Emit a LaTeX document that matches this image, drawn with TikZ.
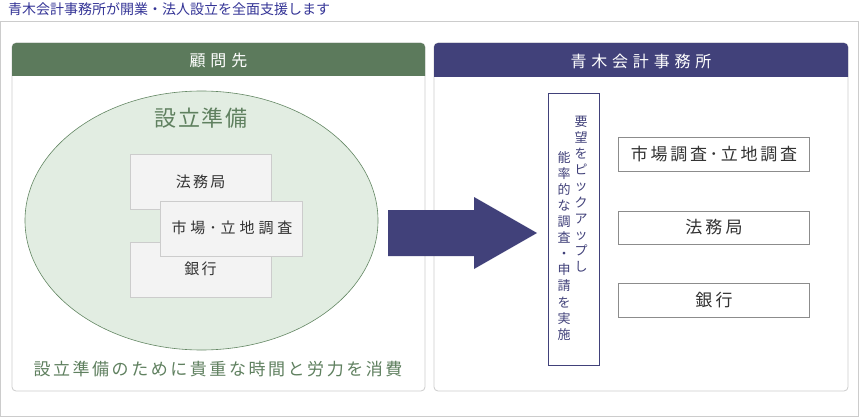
\documentclass[tikz,border=0pt]{standalone}
\usepackage{fontspec}
\setmainfont{Noto Sans CJK JP}
\usetikzlibrary{shadows,shapes.geometric}
\definecolor{titleblue}{RGB}{52,52,150}
\definecolor{navy}{RGB}{65,65,122}
\definecolor{hgreen}{RGB}{92,122,92}
\definecolor{ellfill}{RGB}{226,237,226}
\definecolor{ellline}{RGB}{100,135,100}
\definecolor{gtext}{RGB}{95,128,95}
\definecolor{frame}{RGB}{204,204,204}
\definecolor{boxfill}{RGB}{243,243,243}
\tikzset{
  fs/.style={font=\fontsize{#1}{#1}\selectfont},
  panel/.style={draw=frame, fill=white, rounded corners=4pt, line width=0.8pt},
  graybox/.style={draw=frame, fill=boxfill, line width=0.6pt, inner sep=0pt,
    drop shadow={opacity=0.25, shadow xshift=1pt, shadow yshift=-1pt}},
  whitebox/.style={draw=black!45, fill=white, line width=0.8pt, inner sep=0pt,
    drop shadow={opacity=0.2, shadow xshift=1pt, shadow yshift=-1pt}},
  htext/.style={text=white, font=\fontsize{16}{16}\selectfont\addfontfeature{LetterSpace=30}},
  vtext/.style={anchor=north, inner sep=0, text=navy, align=center, font=\fontsize{13}{16.1}\selectfont},
}
\begin{document}
\begin{tikzpicture}[x=1pt,y=-1pt]
\useasboundingbox (0,0) rectangle (859,417);
% title
\node[anchor=west, text=titleblue, fs=14, inner sep=0] (title) at (8,9) {青木会計事務所が開業・法人設立を全面支援します};
% outer frame
\draw[frame, line width=0.8pt] (0.5,21) rectangle (858.5,416.5);
% left panel
\draw[panel] (12,43) rectangle (425,391);
\fill[hgreen] (12,76) {[rounded corners=4pt] -- (12,43) -- (425,43)} -- (425,76) -- cycle;
\node[htext] (lhead) at (218.5,60) {顧問先};
% ellipse
\node[draw=ellline, fill=ellfill, ellipse, line width=0.6pt, minimum width=353pt, minimum height=259pt, inner sep=0] (ell) at (201.5,220.5) {};
\node[text=gtext, font=\fontsize{22}{22}\selectfont\addfontfeature{LetterSpace=8}] (prep) at (201,118) {設立準備};
% gray boxes
\node[graybox, minimum width=141pt, minimum height=55pt, anchor=north west] (b1) at (130,154) {};
\node[fs=15, text=black!80] (t1) at (200.5,182) {\addfontfeature{LetterSpace=15}法務局};
\node[graybox, minimum width=141pt, minimum height=55pt, anchor=north west] (b3) at (130,242) {};
\node[fs=15, text=black!80] (t3) at (200.5,269) {\addfontfeature{LetterSpace=15}銀行};
\node[graybox, minimum width=142pt, minimum height=55pt, anchor=north west] (b2) at (160,201) {};
\node[fs=15, text=black!80] (t2) at (232,228) {\addfontfeature{LetterSpace=26}市場･立地調査};
\node[text=gtext, fs=17] (bottom) at (218,369) {\addfontfeature{LetterSpace=15}設立準備のために貴重な時間と労力を消費};
% right panel
\draw[panel] (434,43) rectangle (848,391);
\fill[navy] (434,77) {[rounded corners=4pt] -- (434,43) -- (848,43)} -- (848,77) -- cycle;
\node[htext] (rhead) at (641,61) {青木会計事務所};
% arrow
\fill[navy] (388,210) -- (474,210) -- (474,197) -- (537,233) -- (474,269) -- (474,256) -- (388,256) -- cycle;
\coordinate (arrowtip) at (537,233);
% vertical box
\node[draw=navy, fill=white, line width=0.8pt, minimum width=51pt, minimum height=272pt, anchor=north west, inner sep=0] (vbox) at (548,93) {};
\node[vtext] (vcol1) at (581,116) {要\\望\\を\\ピ\\ッ\\ク\\ア\\ッ\\プ\\し};
\node[vtext] (vcol2) at (564,151) {能\\率\\的\\な\\調\\査\\・\\申\\請\\を\\実\\施};
% right boxes
\node[whitebox, minimum width=191pt, minimum height=34pt, anchor=north west] (r1) at (618,137) {};
\node[fs=17, text=black!80] (rt1) at (714,154) {\addfontfeature{LetterSpace=16}市場調査･立地調査};
\node[whitebox, minimum width=191pt, minimum height=33pt, anchor=north west] (r2) at (618,211) {};
\node[fs=17, text=black!80] (rt2) at (714,227.5) {\addfontfeature{LetterSpace=18}法務局};
\node[whitebox, minimum width=191pt, minimum height=34pt, anchor=north west] (r3) at (618,283) {};
\node[fs=17, text=black!80] (rt3) at (714,300) {\addfontfeature{LetterSpace=18}銀行};
\end{tikzpicture}
\end{document}
